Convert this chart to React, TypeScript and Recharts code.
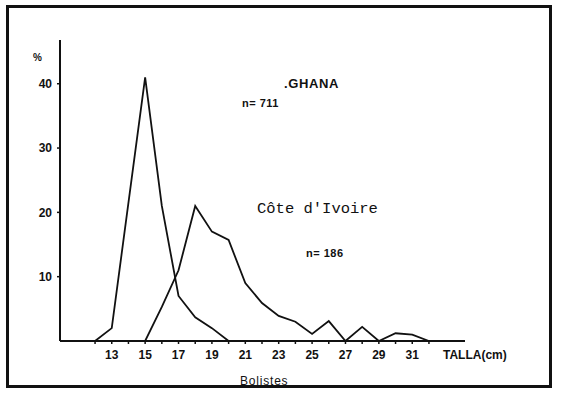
import * as React from "react"
import { CartesianGrid, Line, LineChart, XAxis, YAxis } from "recharts"

// Size classes (cm) and percentage per class
const ghanaSizes = [12, 13, 15, 16, 17, 18, 19, 20]
const ghanaPct = [0, 2, 41, 21, 7, 3.7, 2, 0]

const coteSizes = [15, 16, 17, 18, 19, 20, 21, 22, 23, 24, 25, 26, 27, 28, 29, 30, 31, 32]
const cotePct = [0, 5.3, 11, 21, 17, 15.7, 9, 5.9, 3.9, 3, 1.1, 3.1, 0, 2.2, 0, 1.2, 1, 0]

const xTicks = [12, 13, 14, 15, 16, 17, 18, 19, 20, 21, 22, 23, 24, 25, 26, 27, 28, 29, 30, 31, 32]
const xLabels = [13, 15, 17, 19, 21, 23, 25, 27, 29, 31]
const yTicks = [10, 20, 30, 40]

const toSeries = (sizes: number[], pct: number[]) =>
  sizes.map((size, i) => ({ size, pct: pct[i] }))

const ghanaData = toSeries(ghanaSizes, ghanaPct)
const coteData = toSeries(coteSizes, cotePct)

const sans = "'Liberation Sans', Arial, sans-serif"
const mono = "'Liberation Mono', 'DejaVu Sans Mono', monospace"

export default function App() {
  return (
    <div style={{ position: "relative", width: 561, height: 398, background: "#fff", fontFamily: sans }}>
      <style>{`body{margin:0}`}</style>
      <LineChart
        width={561}
        height={398}
        margin={{ top: 40, right: 96, left: 30, bottom: 27 }}
      >
        <CartesianGrid stroke="none" />
        <XAxis
          type="number"
          dataKey="size"
          domain={[9.9, 34.16]}
          ticks={xTicks}
          interval={0}
          allowDataOverflow
          height={30}
          tickSize={3}
          tickMargin={6}
          tickFormatter={(v: number) => (xLabels.includes(v) ? String(v) : "")}
          tick={{ fontSize: 12, fontWeight: 700, fill: "#111", fontFamily: sans }}
          axisLine={{ stroke: "#111", strokeWidth: 2 }}
          tickLine={{ stroke: "#111", strokeWidth: 1.5 }}
        />
        <YAxis
          type="number"
          domain={[0, 46.8]}
          ticks={yTicks}
          interval={0}
          allowDataOverflow
          width={30}
          tickSize={3}
          tickMargin={5}
          tick={{ fontSize: 12, fontWeight: 700, fill: "#111", fontFamily: sans }}
          axisLine={{ stroke: "#111", strokeWidth: 2 }}
          tickLine={{ stroke: "#111", strokeWidth: 1.5 }}
        />
        <Line
          data={ghanaData}
          dataKey="pct"
          type="linear"
          stroke="#111"
          strokeWidth={1.8}
          dot={false}
          isAnimationActive={false}
        />
        <Line
          data={coteData}
          dataKey="pct"
          type="linear"
          stroke="#111"
          strokeWidth={1.8}
          dot={false}
          isAnimationActive={false}
        />
      </LineChart>

      {/* annotations of the original figure */}
      <svg width={561} height={398} style={{ position: "absolute", left: 0, top: 0, pointerEvents: "none" }}>
        <text x={33} y={61} fontSize={10} fontWeight={700} fill="#111">%</text>
        <text x={284} y={88} fontSize={13} fontWeight={700} fill="#111" letterSpacing={0.6}>.GHANA</text>
        <text x={242} y={107} fontSize={11} fontWeight={700} fill="#111" letterSpacing={0.5}>n= 711</text>
        <text x={257} y={213} fontSize={15.5} fill="#111" fontFamily={mono}>Côte d'Ivoire</text>
        <text x={306} y={257} fontSize={11} fontWeight={700} fill="#111" letterSpacing={0.5}>n= 186</text>
        <text x={443} y={359} fontSize={12} fontWeight={700} fill="#111">TALLA(cm)</text>
        <text x={240} y={385} fontSize={12} fill="#111" letterSpacing={0.8}>Bolistes</text>
      </svg>

      <div
        style={{
          position: "absolute",
          left: 6,
          top: 5,
          width: 546,
          height: 383,
          border: "3px solid #111",
          boxSizing: "border-box",
          pointerEvents: "none",
        }}
      />
    </div>
  )
}
